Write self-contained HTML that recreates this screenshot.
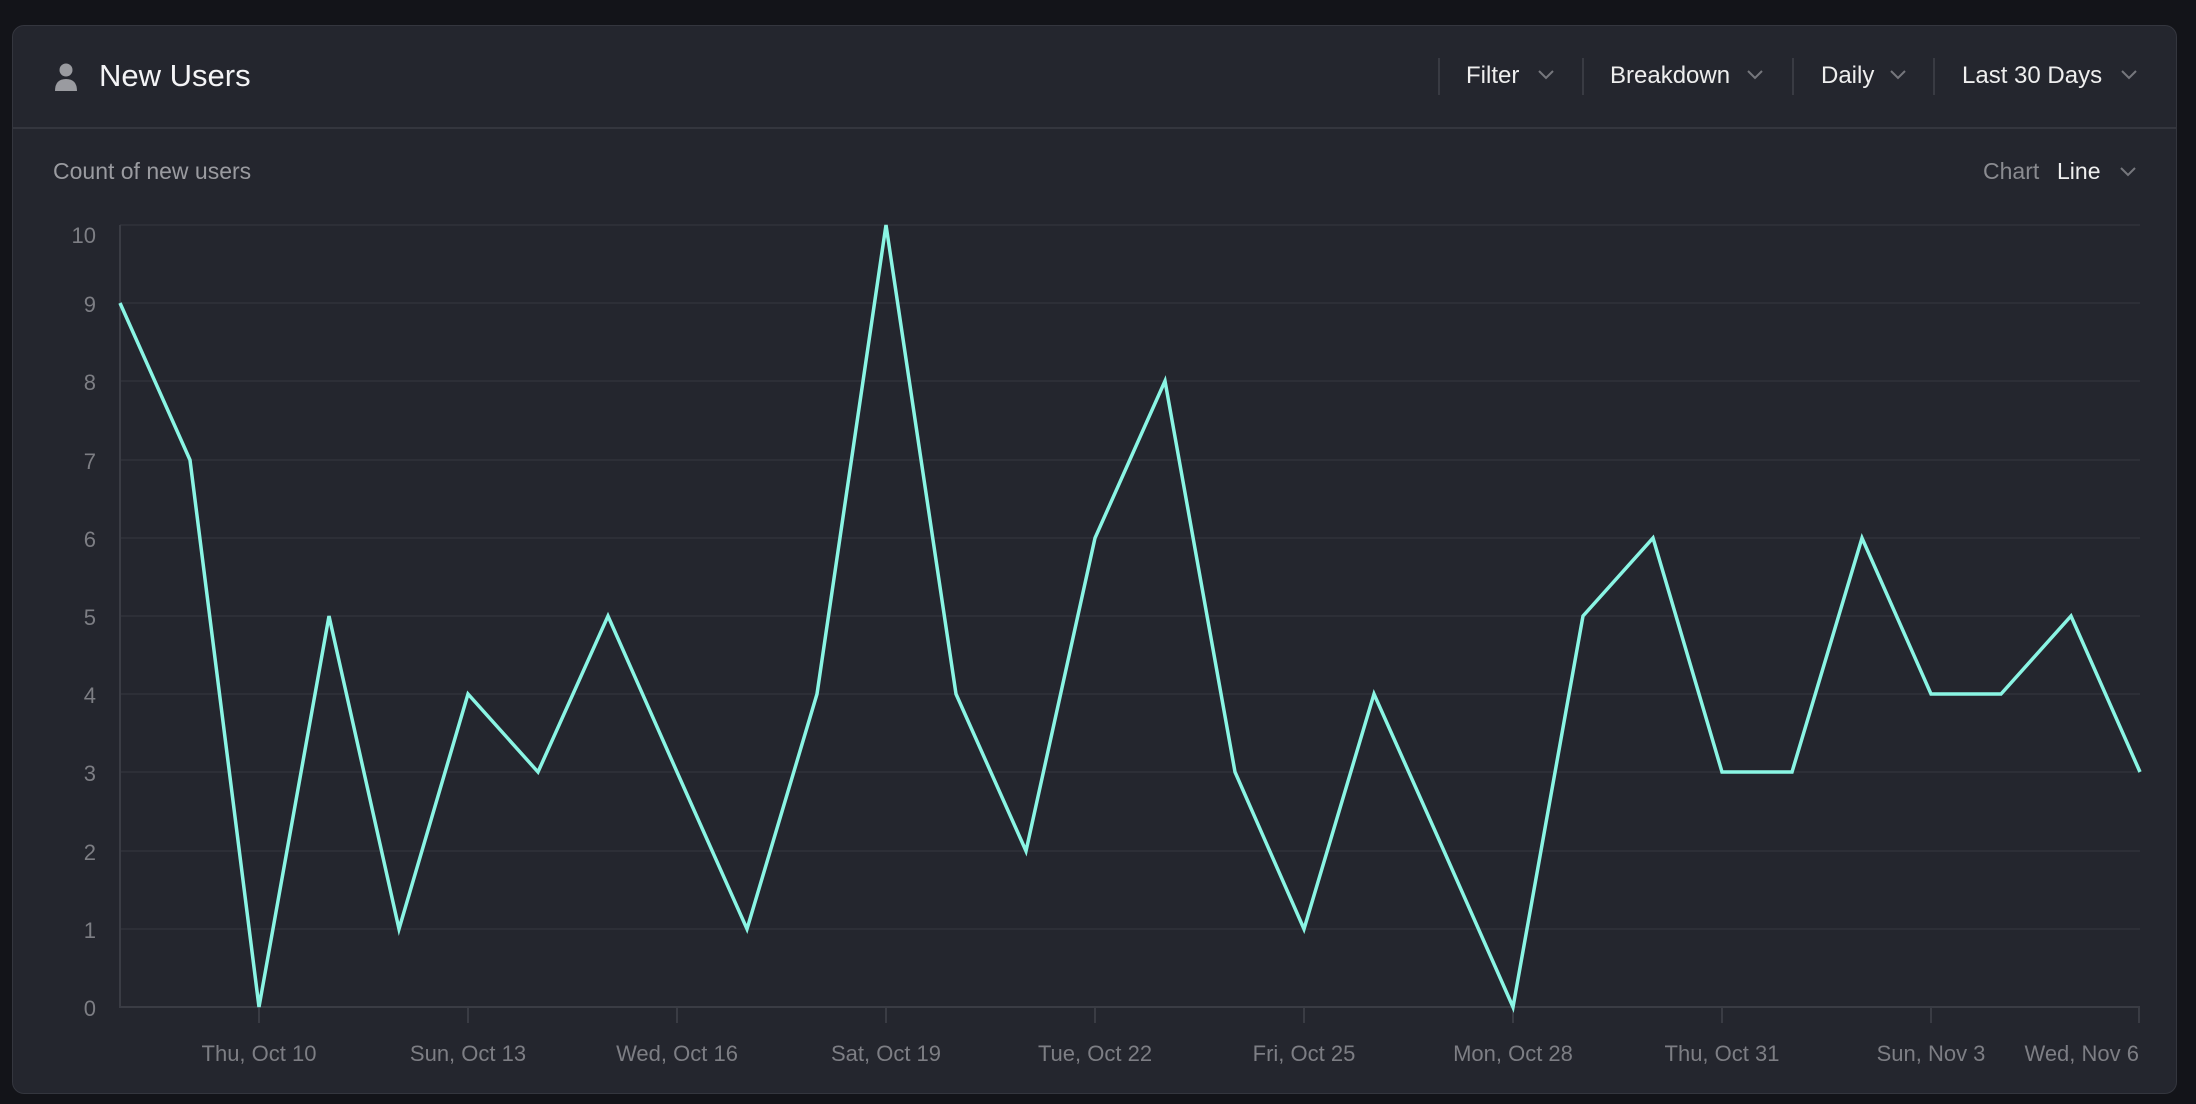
<!DOCTYPE html>
<html><head><meta charset="utf-8"><style>
html,body{margin:0;padding:0;width:2196px;height:1104px;background:#131419;overflow:hidden;font-family:"Liberation Sans",sans-serif}
.card{position:absolute;left:12px;top:25px;width:2165px;height:1069px;background:#24262e;border:1px solid #34363e;border-radius:12px;box-sizing:border-box}
.hdiv{position:absolute;left:13px;top:127px;width:2164px;height:2px;background:#34363e}
.t{position:absolute;white-space:nowrap}
.sep{position:absolute;top:58px;width:2px;height:37px;background:#393b43}
</style></head><body>
<div class="card"></div>
<div class="hdiv"></div>
<svg style="position:absolute;left:54px;top:62px" width="24" height="30" viewBox="0 0 24 30"><circle cx="12" cy="8" r="6.5" fill="#9a9ba0"/><path d="M1 29 Q1 17 12 17 Q23 17 23 29 Z" fill="#9a9ba0"/></svg>
<div class="t" style="left:99px;top:58px;font-size:31px;color:#f4f4f6">New Users</div>
<div class="sep" style="left:1438px"></div><div class="sep" style="left:1582px"></div><div class="sep" style="left:1792px"></div><div class="sep" style="left:1933px"></div>
<div class="t" style="left:1466px;top:62px;font-size:24px;color:#eee">Filter</div>
<div class="t" style="left:1610px;top:62px;font-size:24px;color:#eee">Breakdown</div>
<div class="t" style="left:1821px;top:62px;font-size:24px;color:#eee">Daily</div>
<div class="t" style="left:1962px;top:62px;font-size:24px;color:#eee">Last 30 Days</div>
<div class="t" style="left:53px;top:158px;font-size:23px;color:#9a9ba0">Count of new users</div>
<div class="t" style="left:1983px;top:158px;font-size:23px;color:#8a8b90">Chart</div>
<div class="t" style="left:2057px;top:158px;font-size:23px;color:#eee">Line</div>
<svg style="position:absolute;left:0;top:0" width="2196" height="1104">
<g fill="none" stroke="#76777d" stroke-width="2">
<polyline points="1539,71 1546,78 1553,71"/><polyline points="1748,71 1755,78 1762,71"/><polyline points="1891,71 1898,78 1905,71"/><polyline points="2122,71 2129,78 2136,71"/><polyline points="2121,168 2128,175 2135,168"/>
</g>
<g stroke="#30323a" stroke-width="1.5">
<line x1="120" y1="225" x2="2140" y2="225"/><line x1="120" y1="303" x2="2140" y2="303"/><line x1="120" y1="381" x2="2140" y2="381"/><line x1="120" y1="460" x2="2140" y2="460"/><line x1="120" y1="538" x2="2140" y2="538"/><line x1="120" y1="616" x2="2140" y2="616"/><line x1="120" y1="694" x2="2140" y2="694"/><line x1="120" y1="772" x2="2140" y2="772"/><line x1="120" y1="851" x2="2140" y2="851"/><line x1="120" y1="929" x2="2140" y2="929"/>
</g>
<g stroke="#3a3c44" stroke-width="2">
<line x1="120" y1="225" x2="120" y2="1008"/><line x1="120" y1="1007" x2="2140" y2="1007"/>
<line x1="259" y1="1007" x2="259" y2="1023"/><line x1="468" y1="1007" x2="468" y2="1023"/><line x1="677" y1="1007" x2="677" y2="1023"/><line x1="886" y1="1007" x2="886" y2="1023"/><line x1="1095" y1="1007" x2="1095" y2="1023"/><line x1="1304" y1="1007" x2="1304" y2="1023"/><line x1="1513" y1="1007" x2="1513" y2="1023"/><line x1="1722" y1="1007" x2="1722" y2="1023"/><line x1="1931" y1="1007" x2="1931" y2="1023"/><line x1="2139" y1="1007" x2="2139" y2="1023"/>
</g>
<g font-family="Liberation Sans,sans-serif" font-size="22" fill="#7d7e84" text-anchor="end">
<text x="96" y="243">10</text><text x="96" y="312">9</text><text x="96" y="390">8</text><text x="96" y="469">7</text><text x="96" y="547">6</text><text x="96" y="625">5</text><text x="96" y="703">4</text><text x="96" y="781">3</text><text x="96" y="860">2</text><text x="96" y="938">1</text><text x="96" y="1016">0</text>
</g>
<g font-family="Liberation Sans,sans-serif" font-size="22" fill="#7d7e84" text-anchor="middle">
<text x="259" y="1061">Thu, Oct 10</text><text x="468" y="1061">Sun, Oct 13</text><text x="677" y="1061">Wed, Oct 16</text><text x="886" y="1061">Sat, Oct 19</text><text x="1095" y="1061">Tue, Oct 22</text><text x="1304" y="1061">Fri, Oct 25</text><text x="1513" y="1061">Mon, Oct 28</text><text x="1722" y="1061">Thu, Oct 31</text><text x="1931" y="1061">Sun, Nov 3</text><text x="2139" y="1061" text-anchor="end">Wed, Nov 6</text>
</g>
<polyline fill="none" stroke="#8af5e4" stroke-width="3.5" stroke-linejoin="miter" points="120,303 190,460 259,1007 329,616 399,929 468,694 538,772 608,616 677,772 747,929 817,694 886,225 956,694 1026,851 1095,538 1165,381 1235,772 1304,929 1374,694 1444,851 1513,1007 1583,616 1653,538 1722,772 1792,772 1862,538 1931,694 2001,694 2071,616 2140,772"/>
</svg>
</body></html>
